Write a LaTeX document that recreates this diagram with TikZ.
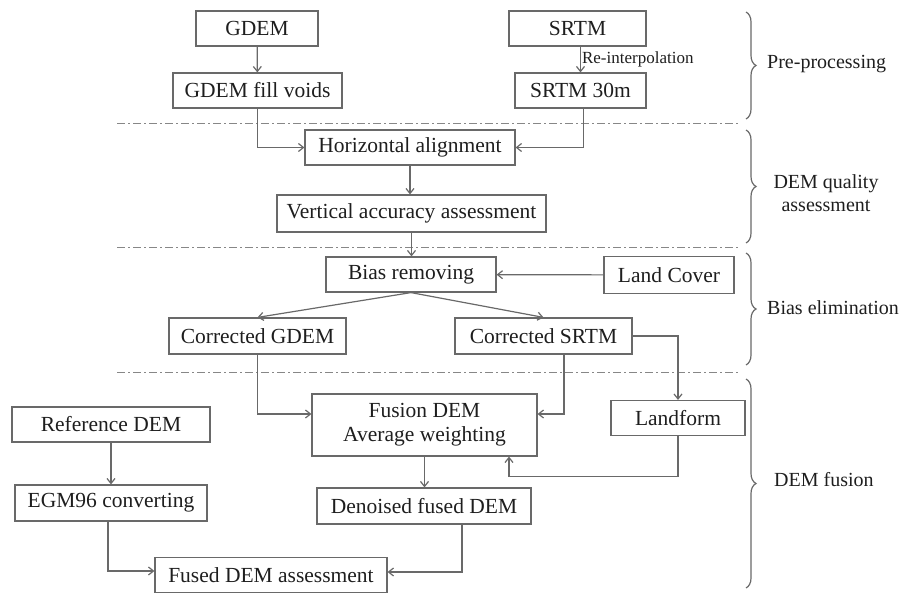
\documentclass[tikz,border=0pt]{standalone}
\usepackage{fontspec}
\setmainfont{Liberation Serif}
\usetikzlibrary{arrows.meta,decorations.pathreplacing}
\definecolor{ln}{RGB}{105,105,105}
\definecolor{tx}{RGB}{30,30,30}
\tikzset{
  box/.style={draw=ln, line width=1.2pt, text=tx, inner sep=0pt, align=center, font=\fontsize{21.5}{24}\selectfont},
  arr/.style={draw=ln, line width=1.2pt, -{Straight Barb[length=5pt,width=8pt]}},
  sep/.style={draw=ln!80, line width=1pt, dash pattern=on 8pt off 3pt on 2pt off 3pt},
  bracedec/.style={draw=ln, line width=1.2pt, decorate, decoration={brace, amplitude=10pt}},
  lbl/.style={text=tx, inner sep=0pt, align=center, font=\fontsize{20}{23}\selectfont},
  small/.style={text=tx, inner sep=2pt, font=\fontsize{17}{19}\selectfont}
}
\begin{document}
\begin{tikzpicture}[x=1pt,y=-1pt]
\useasboundingbox (0,0) rectangle (909,593);
% separators
\draw[sep] (117,124) -- (740,124);
\draw[sep] (117,248) -- (740,248);
\draw[sep] (117,372) -- (740,372);
% boxes
\node[box, minimum width=122pt, minimum height=35pt] (gdem) at (257,28.5) {GDEM};
\node[box, minimum width=137pt, minimum height=35pt] (srtm) at (577.5,28.5) {SRTM};
\node[box, minimum width=169pt, minimum height=35pt] (gfv) at (257.5,90.5) {GDEM fill voids};
\node[box, minimum width=131pt, minimum height=35pt] (s30) at (580.5,90.5) {SRTM 30m};
\node[box, minimum width=210pt, minimum height=35pt] (ha) at (410,147.5) {Horizontal alignment};
\node[box, minimum width=269pt, minimum height=37pt] (vaa) at (411.5,213.5) {Vertical accuracy assessment};
\node[box, minimum width=170pt, minimum height=35pt] (br) at (411,274.5) {Bias removing};
\node[box, minimum width=130pt, minimum height=37pt] (lc) at (669,275) {Land Cover};
\node[box, minimum width=177pt, minimum height=36pt] (cg) at (257.5,336) {Corrected GDEM};
\node[box, minimum width=177pt, minimum height=36pt] (cs) at (543.5,336) {Corrected SRTM};
\node[box, minimum width=225pt, minimum height=62pt] (fus) at (424.5,425) {Fusion DEM\\Average weighting};
\node[box, minimum width=134pt, minimum height=35pt] (lf) at (678,418) {Landform};
\node[box, minimum width=214pt, minimum height=36pt] (den) at (424,506) {Denoised fused DEM};
\node[box, minimum width=198pt, minimum height=35pt] (ref) at (111,424.5) {Reference DEM};
\node[box, minimum width=192pt, minimum height=36pt] (egm) at (111,503) {EGM96 converting};
\node[box, minimum width=232pt, minimum height=35pt] (fda) at (271,575) {Fused DEM assessment};
% connectors
\draw[arr] (gdem) -- (gfv);
\draw[arr] (s30.north |- srtm.south) -- (s30.north) node[small, midway, right, xshift=-1pt] {Re-interpolation};
\draw[arr] (gfv.south) |- (ha.west);
\draw[arr] ([xshift=3pt]s30.south) |- (ha.east);
\draw[arr] (ha.south) -- (ha.south |- vaa.north);
\draw[arr] (vaa.south) -- (vaa.south |- br.north);
\draw[arr] (lc) -- (br);
\draw[arr] (br.south) -- (cg.north);
\draw[arr] (br.south) -- (cs.north);
\draw[arr] (cs.east) -| (lf.north);
\draw[arr] (cg.south) |- ([yshift=11pt]fus.west);
\draw[arr] ([xshift=20.5pt]cs.south) |- ([yshift=11pt]fus.east);
\draw[arr] (lf.south) |- ([xshift=84.5pt,yshift=-20pt]fus.south) -- ([xshift=84.5pt]fus.south);
\draw[arr] (fus.south) -- (fus.south |- den.north);
\draw[arr] (ref) -- (egm);
\draw[arr] ([xshift=-3pt]egm.south) |- ([yshift=4pt]fda.west);
\draw[arr] ([xshift=38pt]den.south) |- ([yshift=3pt]fda.east);
% braces
\draw[bracedec] (746,12) -- (746,119);
\draw[bracedec] (746,130) -- (746,243);
\draw[bracedec] (746,253) -- (746,365);
\draw[bracedec] (746,379) -- (746,588);
\node[lbl, anchor=west] (l1) at (767,64) {Pre-processing};
\node[lbl] (l2) at (826,193) {DEM quality\\assessment};
\node[lbl, anchor=west] (l3) at (767,308) {Bias elimination};
\node[lbl, anchor=west] (l4) at (774,480) {DEM fusion};
\end{tikzpicture}
\end{document}
